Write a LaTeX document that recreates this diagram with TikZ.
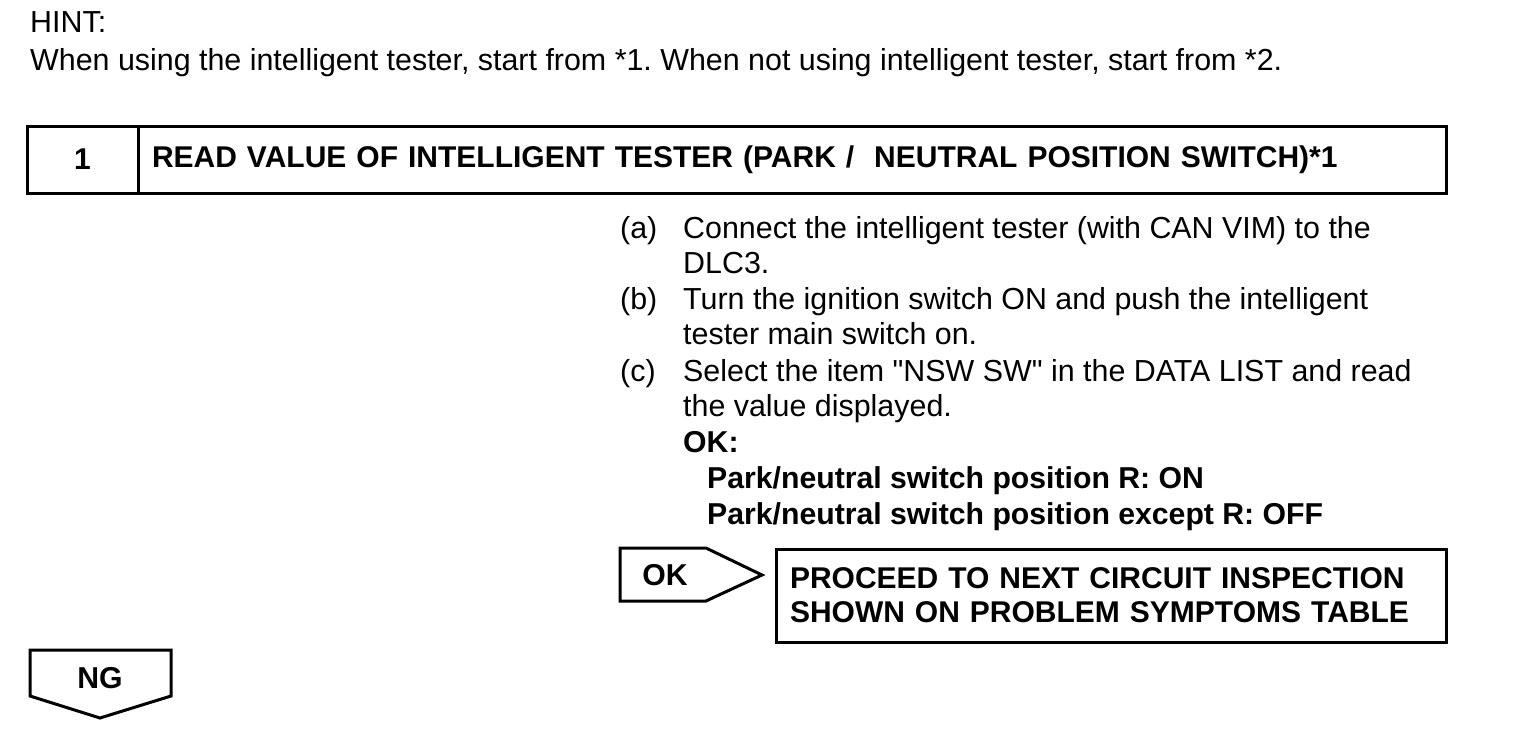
\documentclass[tikz,border=0pt]{standalone}
\usepackage{fontspec}
\setmainfont{Liberation Sans}[Ligatures=TeXOff]
\usetikzlibrary{positioning}
\definecolor{ink}{HTML}{000000}
\frenchspacing

\begin{document}
\begin{tikzpicture}[x=1pt,y=-1pt,
  txt/.style={ink,font=\fontsize{30.4}{36}\selectfont,anchor=base west,inner sep=0pt},
  txtb/.style={txt,font=\fontsize{30.2}{34}\selectfont\bfseries},
  frame/.style={draw=ink,line width=3pt,outer sep=0pt,anchor=north west}]
\useasboundingbox (0,0) rectangle (1520,750);
% hint
\node[txt] (hint) at (30,32) {HINT:};
\node[txt] (hintline) at (30,70) {When using the intelligent tester, start from *1. When not using intelligent tester, start from *2.};
% step header
\node[frame,minimum width=111,minimum height=67,font=\fontsize{30}{36}\selectfont\bfseries] (stepno) at (27,126) {1};
\node[frame,minimum width=1308,minimum height=67,text width=1280,inner xsep=14,align=left,
  font=\fontsize{30}{34}\selectfont\bfseries] (steptitle) at (138,126)
  {READ VALUE OF INTELLIGENT TESTER (PARK /\ \ NEUTRAL POSITION SWITCH)*1};
% procedure
\node[txt] (ia) at (620,238) {(a)};
\node[txt] (ia1) at (683,238) {Connect the intelligent tester (with CAN VIM) to the};
\node[txt] (ia2) at (683,273) {DLC3.};
\node[txt] (ib) at (620,309) {(b)};
\node[txt] (ib1) at (683,309) {Turn the ignition switch ON and push the intelligent};
\node[txt] (ib2) at (683,344) {tester main switch on.};
\node[txt] (ic) at (620,381) {(c)};
\node[txt] (ic1) at (683,381) {Select the item "NSW SW" in the DATA LIST and read};
\node[txt] (ic2) at (683,416) {the value displayed.};
\node[txtb] (okhead) at (683,452) {OK:};
\node[txtb] (okr) at (707,488) {Park/neutral switch position R: ON};
\node[txtb] (okother) at (707,524) {Park/neutral switch position except R: OFF};
% OK branch
\draw[ink,line width=3pt,line join=miter] (620,548) -- (706,548) -- (762,575) -- (706,601) -- (620,601) -- cycle;
\node[txtb,anchor=center] (okmark) at (665,575) {OK};
\node[frame,minimum width=670,minimum height=93,text width=642,inner xsep=14,align=left,
  font=\fontsize{30}{34}\selectfont\bfseries] (nextcheck) at (776,549)
  {PROCEED TO NEXT CIRCUIT INSPECTION\\SHOWN ON PROBLEM SYMPTOMS TABLE};
% NG branch
\draw[ink,line width=3pt,line join=miter] (30,650) -- (171,650) -- (171,696) -- (100,718) -- (30,696) -- cycle;
\node[txtb,anchor=center] (ngmark) at (100,678) {NG};
\end{tikzpicture}
\end{document}
